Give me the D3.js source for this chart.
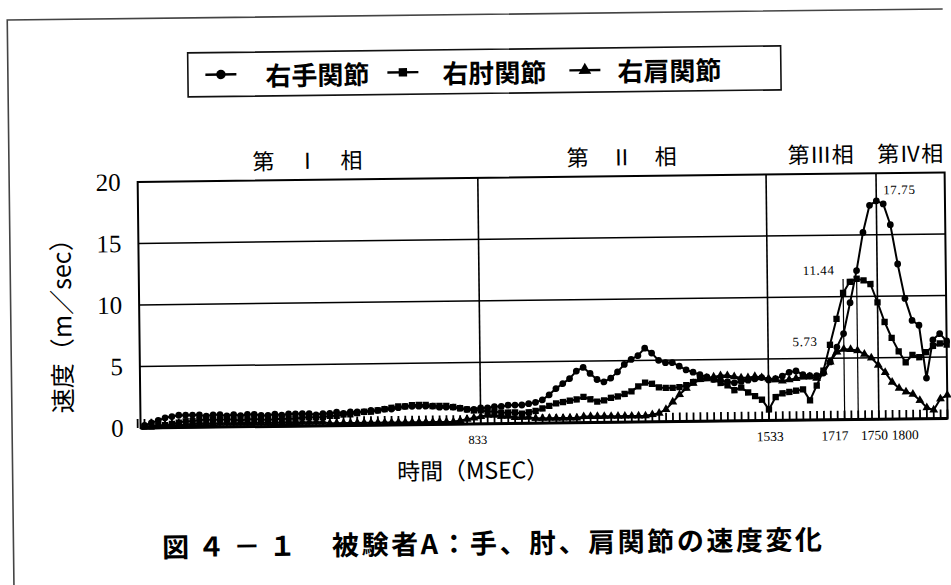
<!DOCTYPE html>
<html>
<head>
<meta charset="utf-8">
<script src="https://cdn.jsdelivr.net/npm/d3@7"></script>
<style>
  html, body { margin: 0; padding: 0; background: #fff; }
  svg { display: block; }
</style>
</head>
<body>
<svg id="chart" width="951" height="585"></svg>
<script>
// Joint speed of subject A, sampled at 60 Hz (one value per 1/60 s, samples 1..118)
const sampleMs = 1000 / 60;
const seriesNames = ["右手関節", "右肘関節", "右肩関節"];

const wristSpeed = [
  0.2, 0.4, 0.6, 0.8, 0.9, 1.0, 1.0, 1.0, 1.0, 0.9,
  1.0, 1.0, 0.9, 1.0, 0.9, 1.0, 1.0, 0.9, 0.9, 1.0,
  0.9, 1.0, 1.0, 1.0, 1.0, 0.9, 1.0, 1.0, 1.1, 1.0,
  1.1, 1.1, 1.1, 1.2, 1.2, 1.3, 1.3, 1.4, 1.5, 1.5,
  1.5, 1.5, 1.5, 1.4, 1.4, 1.4, 1.3, 1.2, 1.2, 1.3,
  1.3, 1.4, 1.4, 1.5, 1.5, 1.5, 1.6, 1.7, 1.9, 2.3,
  2.8, 3.2, 3.6, 4.2, 4.5, 4.0, 3.5, 3.3, 3.6, 4.1,
  4.7, 5.1, 5.4, 6.0, 5.6, 5.0, 4.8, 4.8, 4.5, 4.2,
  4.0, 3.8, 3.6, 3.4, 3.3, 3.2, 3.1, 3.2, 3.3, 3.4,
  3.5, 3.3, 3.4, 3.6, 3.9, 4.0, 3.7, 3.6, 3.6, 3.8,
  4.7, 5.9, 7.0, 9.5, 12.1, 15.2, 17.4, 17.75, 17.5, 15.8,
  12.6, 9.8, 8.0, 7.6, 3.3, 6.4, 6.9, 6.3
];

const elbowSpeed = [
  0.1, 0.1, 0.2, 0.2, 0.3, 0.4, 0.5, 0.5, 0.6, 0.6,
  0.6, 0.6, 0.6, 0.6, 0.5, 0.6, 0.6, 0.6, 0.5, 0.6,
  0.6, 0.6, 0.6, 0.7, 0.7, 0.7, 0.7, 0.8, 0.8, 0.9,
  0.9, 1.0, 1.1, 1.1, 1.2, 1.3, 1.4, 1.5, 1.5, 1.6,
  1.6, 1.6, 1.5, 1.5, 1.5, 1.4, 1.3, 1.2, 1.1, 1.1,
  1.0, 1.0, 0.9, 0.9, 0.9, 0.8, 0.9, 1.0, 1.2, 1.4,
  1.6, 1.7, 1.8, 1.9, 2.1, 1.9, 1.7, 1.8, 2.0, 2.1,
  2.3, 2.5, 2.9, 3.2, 3.1, 2.8, 2.75, 2.75, 2.8, 2.95,
  3.2, 3.5, 3.5, 3.4, 3.1, 2.9, 2.5, 2.7, 2.3, 2.0,
  1.7, 0.9, 1.9, 2.2, 2.3, 2.4, 2.5, 1.6, 2.8, 4.0,
  6.1, 8.2, 10.3, 11.2, 11.44, 11.3, 11.0, 9.5, 7.9, 6.6,
  5.5, 4.6, 5.2, 5.0, 5.4, 5.9, 6.1, 6.0
];

const shoulderSpeed = [
  0.1, 0.1, 0.1, 0.2, 0.2, 0.2, 0.2, 0.3, 0.3, 0.3,
  0.3, 0.3, 0.3, 0.3, 0.3, 0.3, 0.3, 0.3, 0.3, 0.3,
  0.3, 0.3, 0.3, 0.3, 0.3, 0.3, 0.3, 0.2, 0.2, 0.2,
  0.2, 0.2, 0.2, 0.2, 0.2, 0.2, 0.2, 0.2, 0.2, 0.2,
  0.2, 0.2, 0.2, 0.2, 0.2, 0.2, 0.3, 0.4, 0.5, 0.6,
  0.7, 0.7, 0.6, 0.6, 0.5, 0.5, 0.5, 0.4, 0.4, 0.4,
  0.4, 0.4, 0.4, 0.4, 0.5, 0.5, 0.5, 0.5, 0.5, 0.5,
  0.5, 0.5, 0.5, 0.5, 0.6, 0.7, 1.0, 1.6, 2.2, 2.7,
  3.1, 3.4, 3.5, 3.6, 3.7, 3.7, 3.6, 3.5, 3.5, 3.6,
  3.5, 3.4, 3.3, 3.2, 3.3, 3.4, 3.5, 3.5, 3.4, 3.9,
  4.7, 5.5, 5.73, 5.7, 5.6, 5.3, 5.0, 4.4, 3.8, 3.0,
  2.5, 2.2, 2.0, 1.5, 0.9, 0.7, 1.6, 1.9
];

const yTicks = [0, 5, 10, 15, 20];
const phaseTimes = [833, 1533, 1800];          // phase boundaries (ms)
const peakTimes = [1717, 1750];                 // shoulder / elbow peak times (ms)
const timeLabels = [833, 1533, 1717, 1750, 1800];
const phaseLabels = ["第　Ⅰ　相", "第　Ⅱ　相", "第Ⅲ相", "第Ⅳ相"];

// ---------------------------------------------------------------------------
const serif = "'Liberation Serif', 'DejaVu Serif', serif";
const cjk = "'Noto Sans CJK JP', 'Noto Sans', sans-serif";
const nSamples = wristSpeed.length;
const tEnd = nSamples * sampleMs;
const tStart = 0.42 * sampleMs;

const plot = { left: 139, right: 946, top: 178, bottom: 424 };
const x = d3.scaleLinear().domain([tStart, tEnd]).range([plot.left, plot.right]);
const y = d3.scaleLinear().domain([0, 20]).range([plot.bottom, plot.top]);

const series = [
  { name: seriesNames[0], values: wristSpeed, symbol: d3.symbolCircle, size: 36, legendSize: 70 },
  { name: seriesNames[1], values: elbowSpeed, symbol: d3.symbolSquare, size: 40, legendSize: 70 },
  { name: seriesNames[2], values: shoulderSpeed, symbol: d3.symbolTriangle, size: 34, legendSize: 70 }
];

const svg = d3.select("#chart");
svg.append("rect").attr("width", 951).attr("height", 585).attr("fill", "#fff");

// the printed page sits slightly askew
const page = svg.append("g").attr("transform", "rotate(-0.68 475 292)");

// page frame (open on the right)
page.append("path")
  .attr("d", "M946,14.5 H10.5 V600 H960")
  .attr("fill", "none").attr("stroke", "#444").attr("stroke-width", 1.6);

// ---- legend ----
const legend = page.append("g");
legend.append("rect")
  .attr("x", 190.5).attr("y", 49.5).attr("width", 593).attr("height", 44)
  .attr("fill", "none").attr("stroke", "#111").attr("stroke-width", 1.6);
const legendSymX = [208, 390, 572];
const legendTextX = [268, 445, 620];
series.forEach((s, k) => {
  const g = legend.append("g");
  g.append("line")
    .attr("x1", legendSymX[k]).attr("x2", legendSymX[k] + 31)
    .attr("y1", 71.5).attr("y2", 71.5)
    .attr("stroke", "#000").attr("stroke-width", 2.4);
  g.append("path")
    .attr("d", d3.symbol(s.symbol, s.legendSize)())
    .attr("transform", `translate(${legendSymX[k] + 15.5},71.5)`)
    .attr("fill", "#000");
  g.append("text")
    .attr("x", legendTextX[k]).attr("y", 71.5)
    .attr("dominant-baseline", "central")
    .attr("font-family", cjk).attr("font-weight", 700).attr("font-size", 26)
    .attr("fill", "#000")
    .text(s.name);
});

// ---- phase labels ----
const bounds = [tStart, ...phaseTimes, tEnd];
phaseLabels.forEach((lab, k) => {
  const cx = (x(bounds[k]) + x(bounds[k + 1])) / 2;
  page.append("text")
    .attr("x", cx).attr("y", 157)
    .attr("text-anchor", "middle").attr("dominant-baseline", "central")
    .attr("font-family", cjk).attr("font-size", 22).attr("fill", "#000")
    .text(lab);
});

// ---- grid and frame ----
const chart = page.append("g");
chart.selectAll("line.grid")
  .data(yTicks.filter(v => v > 0 && v < 20))
  .join("line").attr("class", "grid")
  .attr("x1", plot.left).attr("x2", plot.right)
  .attr("y1", d => y(d)).attr("y2", d => y(d))
  .attr("stroke", "#000").attr("stroke-width", 1.5);

chart.append("rect")
  .attr("x", plot.left).attr("y", plot.top)
  .attr("width", plot.right - plot.left).attr("height", plot.bottom - plot.top)
  .attr("fill", "none").attr("stroke", "#000").attr("stroke-width", 2);

// phase boundary lines
chart.selectAll("line.phase")
  .data(phaseTimes)
  .join("line").attr("class", "phase")
  .attr("x1", d => x(d)).attr("x2", d => x(d))
  .attr("y1", plot.top).attr("y2", plot.bottom)
  .attr("stroke", "#000").attr("stroke-width", 1.6);

// thin guides at the shoulder and elbow peak times
const elbowPeak = d3.max(elbowSpeed);
chart.selectAll("line.peak")
  .data(peakTimes)
  .join("line").attr("class", "peak")
  .attr("x1", d => x(d)).attr("x2", d => x(d))
  .attr("y1", y(0)).attr("y2", y(elbowPeak))
  .attr("stroke", "#000").attr("stroke-width", 1.2);

// sample ticks along the time axis, pointing into the plot
chart.selectAll("line.sampletick")
  .data(d3.range(0, nSamples + 1))
  .join("line").attr("class", "sampletick")
  .attr("x1", d => x(d * sampleMs)).attr("x2", d => x(d * sampleMs))
  .attr("y1", y(0)).attr("y2", y(0) - 9)
  .attr("stroke", "#000").attr("stroke-width", 1.8);

chart.append("line")
  .attr("x1", plot.left).attr("x2", plot.right)
  .attr("y1", y(0)).attr("y2", y(0))
  .attr("stroke", "#000").attr("stroke-width", 3);

// ---- series ----
const line = d3.line()
  .x((v, i) => x((i + 1) * sampleMs))
  .y(v => y(v));

series.forEach(s => {
  const g = chart.append("g");
  g.append("path")
    .attr("d", line(s.values))
    .attr("fill", "none").attr("stroke", "#000").attr("stroke-width", 2)
    .attr("stroke-linejoin", "round");
  g.selectAll("path.m")
    .data(s.values)
    .join("path").attr("class", "m")
    .attr("d", d3.symbol(s.symbol, s.size)())
    .attr("transform", (v, i) => `translate(${x((i + 1) * sampleMs)},${y(v)})`)
    .attr("fill", "#000");
});

// ---- y axis labels ----
chart.selectAll("text.ytick")
  .data(yTicks)
  .join("text").attr("class", "ytick")
  .attr("x", 122).attr("y", d => y(d))
  .attr("text-anchor", "end").attr("dominant-baseline", "central")
  .attr("font-family", serif).attr("font-size", 25).attr("fill", "#000")
  .text(d => d);

// ---- time labels (nudged apart where they crowd) ----
const labelShift = { 833: -3, 1533: 1, 1717: -10, 1750: 16, 1800: 26 };
chart.selectAll("text.time")
  .data(timeLabels)
  .join("text").attr("class", "time")
  .attr("x", d => x(d) + labelShift[d]).attr("y", 440)
  .attr("text-anchor", "middle").attr("dominant-baseline", "central")
  .attr("font-family", serif).attr("font-size", d => d === 833 ? 12.5 : 13.5).attr("fill", "#000")
  .text(d => d);

// ---- peak value labels ----
const peaks = [
  { values: shoulderSpeed, dx: -26, dy: -8, anchor: "end" },
  { values: elbowSpeed, dx: -22, dy: -9, anchor: "end" },
  { values: wristSpeed, dx: 7, dy: -11, anchor: "start" }
];
peaks.forEach(p => {
  const vmax = d3.max(p.values);
  const idx = p.values.indexOf(vmax);
  chart.append("text")
    .attr("x", x((idx + 1) * sampleMs) + p.dx).attr("y", y(vmax) + p.dy)
    .attr("text-anchor", p.anchor).attr("dominant-baseline", "central")
    .attr("font-family", serif).attr("font-size", 13).attr("letter-spacing", 0.6)
    .attr("fill", "#000")
    .text(vmax.toFixed(2));
});

// ---- axis titles ----
page.append("text")
  .attr("transform", "translate(60,315) rotate(-90)")
  .attr("text-anchor", "middle").attr("dominant-baseline", "central")
  .attr("font-family", cjk).attr("font-size", 25).attr("fill", "#000")
  .attr("textLength", 187).attr("lengthAdjust", "spacingAndGlyphs")
  .text("速度（m／sec）");

page.append("text")
  .attr("x", 395).attr("y", 469)
  .attr("dominant-baseline", "central")
  .attr("font-family", cjk).attr("font-size", 23).attr("fill", "#000")
  .attr("textLength", 152).attr("lengthAdjust", "spacingAndGlyphs")
  .text("時間（MSEC）");

// ---- caption ----
page.append("text")
  .attr("x", 159).attr("y", 542)
  .attr("dominant-baseline", "central")
  .attr("font-family", cjk).attr("font-weight", 700).attr("font-size", 27).attr("fill", "#000")
  .attr("textLength", 134).attr("lengthAdjust", "spacing")
  .text("図４－１");
page.append("text")
  .attr("x", 329).attr("y", 542)
  .attr("dominant-baseline", "central")
  .attr("font-family", cjk).attr("font-weight", 700).attr("font-size", 27).attr("fill", "#000")
  .attr("textLength", 490).attr("lengthAdjust", "spacing")
  .text("被験者A：手、肘、肩関節の速度変化");
</script>
</body>
</html>
